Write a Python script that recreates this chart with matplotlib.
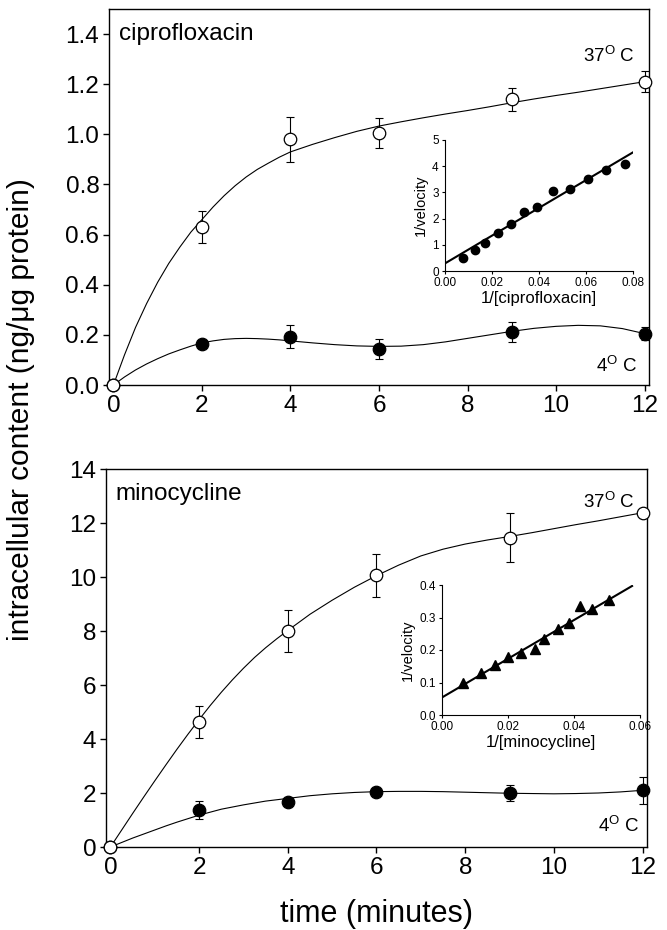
import numpy as np
import matplotlib
matplotlib.use("Agg")
import matplotlib.pyplot as plt

plt.rcParams['font.family'] = ['Liberation Sans', 'DejaVu Sans']
plt.rcParams['mathtext.fontset'] = 'custom'
plt.rcParams['mathtext.rm'] = 'Liberation Sans'
plt.rcParams['mathtext.it'] = 'Liberation Sans:italic'

# ---------------- data ----------------
time_pts = [0, 2, 4, 6, 9, 12]

cipro_37 = [0.0, 0.63, 0.98, 1.005, 1.14, 1.21]
cipro_37_err = [0.0, 0.063, 0.09, 0.06, 0.045, 0.042]
cipro_4 = [0.0, 0.163, 0.193, 0.143, 0.21, 0.205]
cipro_4_err = [0.0, 0.015, 0.046, 0.04, 0.04, 0.025]

mino_37 = [0.0, 4.64, 8.0, 10.06, 11.46, 12.38]
mino_37_err = [0.0, 0.6, 0.76, 0.8, 0.92, 0.0]
mino_4 = [0.0, 1.37, 1.67, 2.05, 1.99, 2.1]
mino_4_err = [0.0, 0.33, 0.15, 0.1, 0.3, 0.5]

# fitted curves
curve_t = [0, 0.25, 0.5, 0.75, 1, 1.25, 1.5, 1.75, 2, 2.25, 2.5, 2.75, 3,
           3.25, 3.5, 3.75, 4, 4.5, 5, 5.5, 6, 6.5, 7, 7.5, 8, 8.5, 9, 9.5,
           10, 10.5, 11, 11.5, 12]
cipro_37_curve = [0, 0.12, 0.23, 0.325, 0.41, 0.485, 0.55, 0.61, 0.66, 0.71,
                  0.755, 0.795, 0.83, 0.86, 0.885, 0.909, 0.93, 0.96, 0.987,
                  1.012, 1.033, 1.05, 1.066, 1.081, 1.095, 1.11, 1.126, 1.141,
                  1.155, 1.168, 1.182, 1.196, 1.21]
cipro_4_curve = [0, 0.032, 0.06, 0.084, 0.105, 0.124, 0.14, 0.155, 0.168,
                 0.176, 0.182, 0.185, 0.186, 0.185, 0.183, 0.18, 0.176, 0.168,
                 0.161, 0.156, 0.154, 0.155, 0.161, 0.172, 0.186, 0.2, 0.214,
                 0.226, 0.234, 0.238, 0.236, 0.225, 0.205]
mino_37_curve = [0, 0.62, 1.24, 1.85, 2.45, 3.04, 3.62, 4.18, 4.72, 5.24,
                 5.73, 6.19, 6.62, 7.02, 7.38, 7.71, 8.02, 8.62, 9.14, 9.62,
                 10.05, 10.44, 10.78, 11.03, 11.22, 11.37, 11.5, 11.64, 11.79,
                 11.94, 12.08, 12.23, 12.38]
mino_4_curve = [0, 0.165, 0.33, 0.48, 0.63, 0.78, 0.92, 1.05, 1.18, 1.29,
                1.4, 1.48, 1.56, 1.63, 1.7, 1.75, 1.8, 1.9, 1.97, 2.02, 2.05,
                2.06, 2.06, 2.05, 2.03, 2.01, 1.99, 1.98, 1.97, 1.98, 2.0,
                2.04, 2.1]

# inset: double reciprocal plots
cipro_inv_conc = [0.0075, 0.0128, 0.017, 0.0227, 0.028, 0.0337, 0.039, 0.046,
                  0.053, 0.061, 0.0684, 0.0767]
cipro_inv_vel = [0.51, 0.80, 1.06, 1.46, 1.79, 2.26, 2.43, 3.07, 3.12, 3.51,
                 3.84, 4.08]
cipro_fit_x = [0.0, 0.0804]
cipro_fit_y = [0.29, 4.55]

mino_inv_conc = [0.0064, 0.0118, 0.0162, 0.0199, 0.0239, 0.0283, 0.0308,
                 0.0353, 0.0384, 0.0417, 0.0456, 0.0507]
mino_inv_vel = [0.099, 0.129, 0.155, 0.180, 0.192, 0.203, 0.234, 0.265, 0.282,
                0.336, 0.325, 0.353]
mino_fit_x = [0.0, 0.0576]
mino_fit_y = [0.054, 0.397]

x_ticks = [0, 2, 4, 6, 8, 10, 12]
cipro_yticks = [0.0, 0.2, 0.4, 0.6, 0.8, 1.0, 1.2, 1.4]
mino_yticks = [0, 2, 4, 6, 8, 10, 12, 14]

# ---------------- figure ----------------
W, H = 667, 930
fig = plt.figure(figsize=(W / 100, H / 100), dpi=100)


def px_axes(l, r, t, b):
    return fig.add_axes([l / W, 1 - b / H, (r - l) / W, (b - t) / H])


ax1 = px_axes(109, 649, 9, 385)
ax2 = px_axes(106, 647, 469, 847)

TICK_FS = 17.5


def style_main(ax):
    for s in ax.spines.values():
        s.set_linewidth(1.0)
    ax.tick_params(direction='out', length=4, width=1.0, labelsize=TICK_FS,
                   pad=3, top=False, right=False)
    ax.set_xlim(-0.1, 12.1)
    ax.set_xticks(x_ticks)


def draw_series(ax, y, yerr, curve, face):
    ax.plot(curve_t, curve, color='k', lw=0.8, zorder=2)
    ax.errorbar(time_pts, y, yerr=yerr, fmt='none', ecolor='k',
                elinewidth=0.8, capsize=2.8, capthick=0.8, zorder=3)
    ax.plot(time_pts, y, 'o', ms=9, mfc=face, mec='k', mew=0.9, zorder=4,
            clip_on=False)


# top panel
style_main(ax1)
draw_series(ax1, cipro_4, cipro_4_err, cipro_4_curve, 'k')
draw_series(ax1, cipro_37, cipro_37_err, cipro_37_curve, 'white')
ax1.set_ylim(0, 1.5)
ax1.set_yticks(cipro_yticks)
ax1.set_yticklabels(['%.1f' % v for v in cipro_yticks])
ax1.text(0.0185, 0.9176, 'ciprofloxacin', transform=ax1.transAxes,
         fontsize=17.5, va='baseline', ha='left')
ax1.text(0.974, 0.859, r'37$^{\mathrm{O}}$ C', transform=ax1.transAxes,
         fontsize=13.5, va='baseline', ha='right')
ax1.text(0.978, 0.0346, r'4$^{\mathrm{O}}$ C', transform=ax1.transAxes,
         fontsize=13.5, va='baseline', ha='right')

# bottom panel
style_main(ax2)
draw_series(ax2, mino_4, mino_4_err, mino_4_curve, 'k')
draw_series(ax2, mino_37, mino_37_err, mino_37_curve, 'white')
ax2.set_ylim(0, 14)
ax2.set_yticks(mino_yticks)
ax2.text(0.0166, 0.918, 'minocycline', transform=ax2.transAxes,
         fontsize=17.5, va='baseline', ha='left')
ax2.text(0.978, 0.897, r'37$^{\mathrm{O}}$ C', transform=ax2.transAxes,
         fontsize=13.5, va='baseline', ha='right')
ax2.text(0.985, 0.040, r'4$^{\mathrm{O}}$ C', transform=ax2.transAxes,
         fontsize=13.5, va='baseline', ha='right')

# shared labels
fig.text(21 / W, 1 - 410 / H, 'intracellular content (ng/\u03bcg protein)',
         rotation=90, fontsize=21.5, ha='center', va='center')
fig.text(376 / W, 1 - 914 / H, 'time (minutes)', fontsize=22,
         ha='center', va='center')

# insets
ins1 = px_axes(445, 633, 140, 271)
ins2 = px_axes(442, 640, 585, 715)


def style_inset(ax):
    ax.patch.set_alpha(0)
    ax.spines['top'].set_visible(False)
    ax.spines['right'].set_visible(False)
    for s in ('left', 'bottom'):
        ax.spines[s].set_linewidth(0.8)
    ax.tick_params(direction='out', length=2.5, width=0.8, labelsize=8.5,
                   pad=2)


style_inset(ins1)
ins1.plot(cipro_fit_x, cipro_fit_y, color='k', lw=1.5, zorder=2)
ins1.plot(cipro_inv_conc, cipro_inv_vel, 'o', ms=6, color='k', zorder=3)
ins1.set_xlim(0, 0.08)
ins1.set_ylim(0, 5)
ins1.set_xticks([0, 0.02, 0.04, 0.06, 0.08])
ins1.set_xticklabels(['0.00', '0.02', '0.04', '0.06', '0.08'])
ins1.set_yticks([0, 1, 2, 3, 4, 5])
ins1.set_xlabel('1/[ciprofloxacin]', fontsize=12, labelpad=1)
ins1.set_ylabel('1/velocity', fontsize=10.5, labelpad=3)

style_inset(ins2)
ins2.plot(mino_fit_x, mino_fit_y, color='k', lw=1.5, zorder=2)
ins2.plot(mino_inv_conc, mino_inv_vel, '^', ms=6.5, color='k', zorder=3)
ins2.set_xlim(0, 0.06)
ins2.set_ylim(0, 0.4)
ins2.set_xticks([0, 0.02, 0.04, 0.06])
ins2.set_xticklabels(['0.00', '0.02', '0.04', '0.06'])
ins2.set_yticks([0, 0.1, 0.2, 0.3, 0.4])
ins2.set_yticklabels(['0.0', '0.1', '0.2', '0.3', '0.4'])
ins2.set_xlabel('1/[minocycline]', fontsize=12, labelpad=1)
ins2.set_ylabel('1/velocity', fontsize=10.5, labelpad=3)

fig.savefig('out.png', dpi=100)
